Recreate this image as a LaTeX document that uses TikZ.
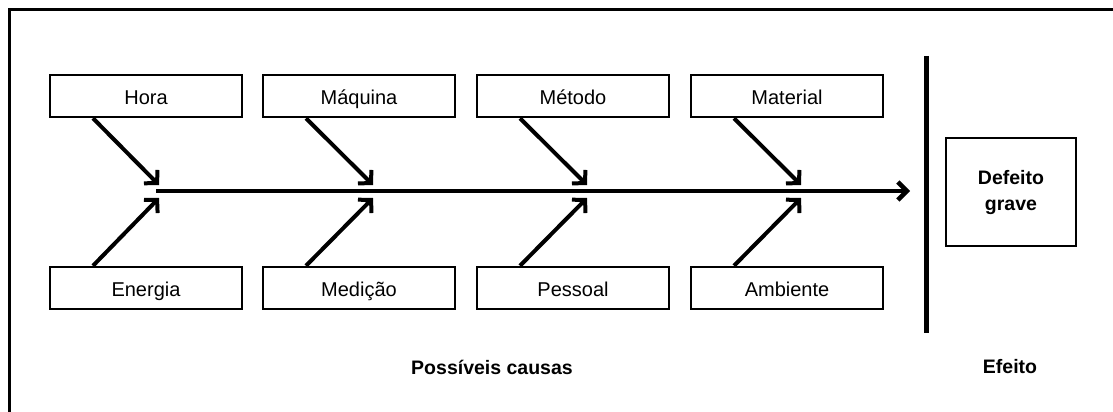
\documentclass[tikz,border=0pt]{standalone}
\usepackage{fontspec}
\setmainfont{Liberation Sans}
\usetikzlibrary{arrows.meta}
\tikzset{
  cbox/.style={draw, line width=2.5pt, minimum width=192pt, minimum height=42pt, inner sep=0pt, text height=17pt, text depth=0pt, font=\fontsize{20}{22}\selectfont},
  ebox/.style={draw, line width=2.5pt, minimum width=130pt, minimum height=108pt, inner sep=0pt, align=center, font=\fontsize{19.5}{26}\selectfont\bfseries},
  lbl/.style={inner sep=0pt, font=\fontsize{19.5}{22}\selectfont\bfseries},
  bone/.style={line width=4pt, -{Straight Barb[length=9pt, width=19pt, line width=4pt]}},
  spine/.style={line width=4.5pt, -{Straight Barb[length=9pt, width=18pt, line width=4.5pt]}},
  vbar/.style={line width=5pt},
  frame/.style={line width=3pt}
}
\begin{document}
\begin{tikzpicture}[x=1pt,y=-1pt]
\useasboundingbox (0,0) rectangle (1113,412);
% frame
\coordinate (f0) at (1113,10);
\coordinate (f1) at (9,10);
\coordinate (f2) at (9,412);
\draw[frame] (f0) -- (f1) -- (f2);
% cause boxes
\node[cbox] (hora) at (146,96) {Hora};
\node[cbox] (maquina) at (359,96) {Máquina};
\node[cbox] (metodo) at (573,96) {Método};
\node[cbox] (material) at (787,96) {Material};
\node[cbox] (energia) at (146,288) {Energia};
\node[cbox] (medicao) at (359,288) {Medição};
\node[cbox] (pessoal) at (573,288) {Pessoal};
\node[cbox] (ambiente) at (787,288) {Ambiente};
% spine
\coordinate (s0) at (156,191);
\coordinate (s1) at (910,191);
\draw[spine] (s0) -- (s1);
% tips
\coordinate (t1) at (159,185);
\coordinate (t2) at (373,185);
\coordinate (t3) at (587,185);
\coordinate (t4) at (801,185);
\coordinate (b1) at (159,198);
\coordinate (b2) at (373,198);
\coordinate (b3) at (587,198);
\coordinate (b4) at (801,198);
\draw[bone] ([xshift=-53pt]hora.south) -- (t1);
\draw[bone] ([xshift=-53pt]maquina.south) -- (t2);
\draw[bone] ([xshift=-53pt]metodo.south) -- (t3);
\draw[bone] ([xshift=-53pt]material.south) -- (t4);
\draw[bone] ([xshift=-53pt]energia.north) -- (b1);
\draw[bone] ([xshift=-53pt]medicao.north) -- (b2);
\draw[bone] ([xshift=-53pt]pessoal.north) -- (b3);
\draw[bone] ([xshift=-53pt]ambiente.north) -- (b4);
% separator
\coordinate (v0) at (926,56);
\coordinate (v1) at (926,333);
\draw[vbar] (v0) -- (v1);
% effect
\node[ebox] (efeito) at (1011,192) {Defeito\\grave};
% labels
\node[lbl] (causas) at (492,367) {Possíveis causas};
\node[lbl] (efl) at (1010,367) {Efeito};
\end{tikzpicture}
\end{document}
